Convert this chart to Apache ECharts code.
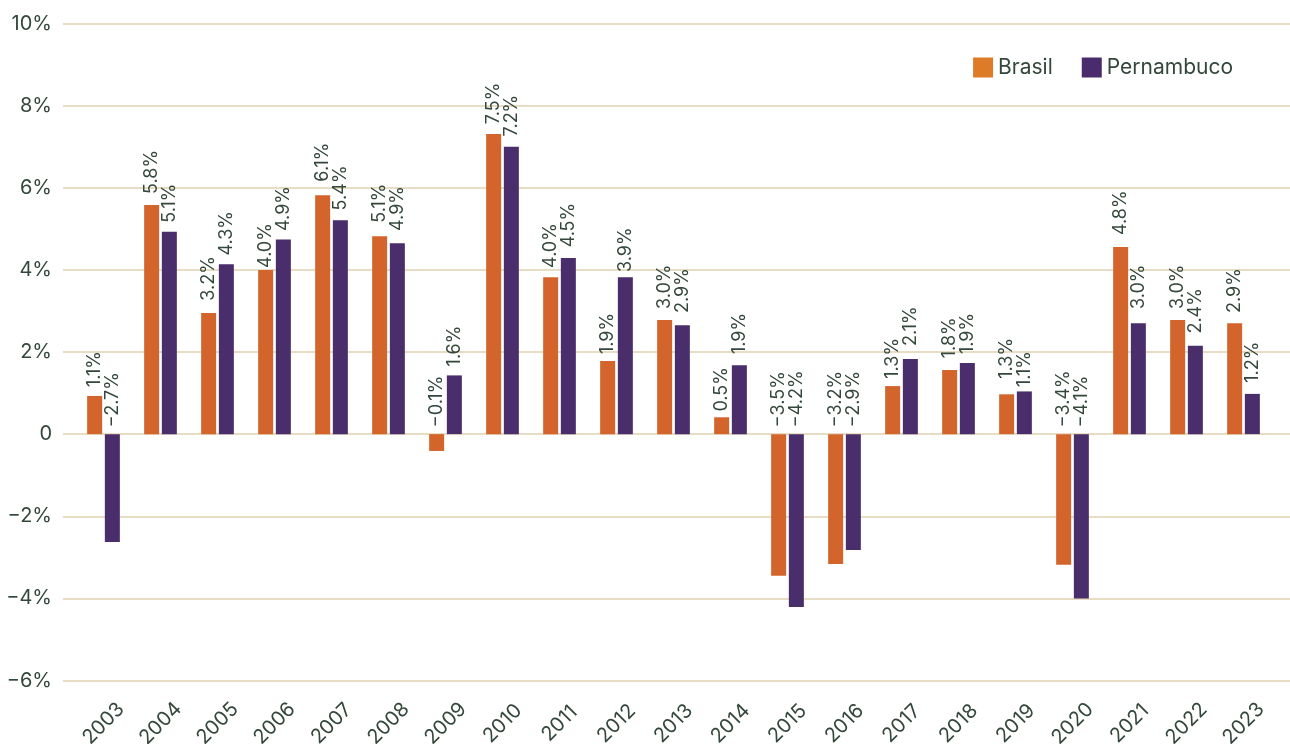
<!DOCTYPE html>
<html lang="pt">
<head>
<meta charset="UTF-8">
<script src="https://cdn.jsdelivr.net/npm/echarts@6/dist/echarts.min.js"></script>
<title>Brasil x Pernambuco</title>
<style>
  html, body { margin: 0; padding: 0; background: #fff; }
  #chart { width: 1290px; height: 744px; }
</style>
</head>
<body>
<div id="chart"></div>
<script>
// anos
var years = ['2003','2004','2005','2006','2007','2008','2009','2010','2011','2012','2013',
             '2014','2015','2016','2017','2018','2019','2020','2021','2022','2023'];
// altura das barras (%)
var brasil = [0.93, 5.58, 2.95, 4.0, 5.82, 4.82, -0.41, 7.31, 3.82, 1.78, 2.78,
              0.41, -3.45, -3.16, 1.17, 1.56, 0.97, -3.18, 4.56, 2.78, 2.70];
var pernambuco = [-2.63, 4.93, 4.14, 4.74, 5.21, 4.65, 1.43, 7.0, 4.29, 3.82, 2.65,
                  1.68, -4.21, -2.82, 1.83, 1.73, 1.04, -4.0, 2.70, 2.15, 0.98];
// rotulos escritos sobre as barras
var brasilLabels = [1.1, 5.8, 3.2, 4.0, 6.1, 5.1, -0.1, 7.5, 4.0, 1.9, 3.0,
                    0.5, -3.5, -3.2, 1.3, 1.8, 1.3, -3.4, 4.8, 3.0, 2.9];
var pernambucoLabels = [-2.7, 5.1, 4.3, 4.9, 5.4, 4.9, 1.6, 7.2, 4.5, 3.9, 2.9,
                        1.9, -4.2, -2.9, 2.1, 1.9, 1.1, -4.1, 3.0, 2.4, 1.2];
var yTicks = [-6, -4, -2, 0, 2, 4, 6, 8, 10];

var font = 'Inter';
var textColor = '#34473B';
var orange = '#D3652C';
var purple = '#4A2D6B';
var barW = 15;
var gap = '18%';

function fmtPct(v) {
    var s = Math.abs(v).toFixed(1) + '%';
    return v < 0 ? '\u2212' + s : s;
}

// serie invisivel so para carregar o rotulo na posicao do valor rotulado
function labelHolder(name, vals) {
    return {
        name: name,
        type: 'bar',
        xAxisIndex: 2,
        yAxisIndex: 1,
        barWidth: barW,
        barGap: gap,
        silent: true,
        itemStyle: { color: 'rgba(0,0,0,0)' },
        label: {
            show: true,
            position: 'top',
            rotate: 90,
            align: 'left',
            verticalAlign: 'middle',
            fontFamily: font,
            fontSize: 18,
            color: textColor
        },
        data: vals.map(function (v) {
            return {
                value: Math.max(v, 0),
                label: { distance: v < 0 ? 7 : 2, formatter: fmtPct(v) }
            };
        }),
        z: 5
    };
}

var chart = echarts.init(document.getElementById('chart'));
chart.setOption({
    backgroundColor: '#ffffff',
    animation: false,
    textStyle: { fontFamily: font },
    legend: {
        top: 52,
        right: 52,
        icon: 'rect',
        itemWidth: 20,
        itemHeight: 20,
        itemGap: 29,
        textStyle: { fontSize: 21, color: textColor, fontFamily: font },
        data: [
            { name: 'Brasil', itemStyle: { color: '#DE7B28' } },
            { name: 'Pernambuco', itemStyle: { color: '#4A2C6C' } }
        ]
    },
    // grade 0: linhas de fundo; grade 1: barras (mesma escala vertical)
    grid: [
        { left: 63, right: 0, top: 23.5, bottom: 63.5, outerBoundsMode: 'none', containLabel: false },
        { left: 75, right: 18, top: 23.5, bottom: 63.5, outerBoundsMode: 'none', containLabel: false }
    ],
    xAxis: [
        { type: 'value', gridIndex: 0, show: false },
        {
            type: 'category',
            gridIndex: 1,
            data: years,
            axisLine: { show: false },
            axisTick: { show: false },
            axisLabel: {
                rotate: 45,
                align: 'center',
                verticalAlign: 'middle',
                margin: 43,
                fontSize: 20,
                color: textColor,
                fontFamily: font,
                interval: 0
            }
        },
        { type: 'category', gridIndex: 1, data: years, show: false }
    ],
    yAxis: [
        {
            type: 'value',
            gridIndex: 0,
            min: yTicks[0],
            max: yTicks[yTicks.length - 1],
            interval: 2,
            axisLine: { show: false },
            axisTick: { show: false },
            axisLabel: {
                margin: 11,
                fontSize: 20,
                color: textColor,
                fontFamily: font,
                formatter: function (v) {
                    if (v === 0) return '0';
                    return (v < 0 ? '\u2212' + (-v) : v) + '%';
                }
            },
            splitLine: { lineStyle: { color: '#E8DCC4', width: 2 } }
        },
        {
            type: 'value',
            gridIndex: 1,
            min: yTicks[0],
            max: yTicks[yTicks.length - 1],
            interval: 2,
            show: false,
            splitLine: { show: false }
        }
    ],
    series: [
        {
            name: 'Brasil',
            type: 'bar',
            xAxisIndex: 1,
            yAxisIndex: 1,
            barWidth: barW,
            barGap: gap,
            itemStyle: { color: orange },
            data: brasil
        },
        {
            name: 'Pernambuco',
            type: 'bar',
            xAxisIndex: 1,
            yAxisIndex: 1,
            barWidth: barW,
            barGap: gap,
            itemStyle: { color: purple },
            data: pernambuco
        },
        labelHolder('rotBrasil', brasilLabels),
        labelHolder('rotPernambuco', pernambucoLabels)
    ]
});
</script>
</body>
</html>
